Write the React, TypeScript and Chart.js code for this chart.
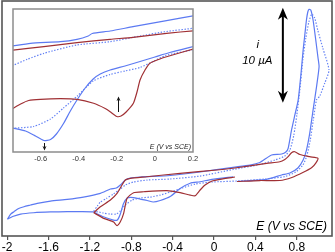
import React, { useEffect, useRef } from "react";
import { Chart, registerables } from "chart.js";
Chart.register(...registerables);

const FONT = '"Liberation Sans", Arial, Helvetica, sans-serif';
const BLUE = "rgb(92,122,242)";
const BLUE_DOT = "rgb(100,130,245)";
const RED = "rgb(160,48,52)";
const FRAME = "#555";

// ---------- main chart (E in V vs SCE, i in µA) ----------
const mainTicks = [-2, -1.6, -1.2, -0.8, -0.4, 0, 0.4, 0.8];
const mainXRange = [-2.05, 1.14];
const mainYRange = [-6.42, 18.32];

const blueSolidV = [
  -1.998, -1.966, -1.934, -1.889, -1.838, -1.774, -1.709, -1.581, -1.42, -1.263, -1.099, -1.002, -0.945, -0.906, -0.858,
  -0.81, -0.713, -0.424, -0.135, 0.183, 0.347, 0.443, 0.508, 0.556, 0.653, 0.694, 0.716, 0.749, 0.781, 0.813, 0.839,
  0.861, 0.877, 0.893, 0.906, 0.919, 0.935, 0.957, 0.983, 1.005, 1.015,
  0.99, 0.957, 0.925, 0.893, 0.861, 0.81, 0.733, 0.653, 0.508, 0.347, 0.222, 0.204, 0.186, -0.022, -0.135, -0.231, -0.328,
  -0.424, -0.52, -0.588, -0.646, -0.713, -0.781, -0.839, -0.877, -0.906, -0.935, -0.973, -1.07, -1.137, -1.166, -1.292,
  -1.42, -1.581, -1.745, -1.87, -1.947, -1.998,
];
const blueSolidI = [
  -4.66, -4.11, -3.86, -3.53, -3.34, -3.16, -2.98, -2.74, -2.56, -2.32, -1.93, -1.47, -1.37, -1.05, -0.53,
  -0.32, -0.21, -0.05, 0.32, 0.81, 1.05, 1.32, 1.79, 2.11, 2.21, 2.42, 2.81, 4.74, 6.32, 7.89, 10.53,
  13.16, 14.74, 16.32, 17.16, 17.44, 17.37, 16.32, 14.21, 12.32, 11.4,
  9.26, 6.84, 4.42, 2.63, 1.58, 0.74, 0.21, 0.0, -0.45, -0.58, -0.68, null, -0.18, -0.45, -0.71, -0.87, -1.42,
  -2.26, -2.68, -2.84, -2.68, -2.53, -2.37, -2.42, -3.05, -4.11, -4.74, -4.74, -4.39, -4.05, -3.89, -3.86,
  -3.86, -3.89, -3.97, -4.11, -4.37, -4.66,
];

const blueDotV = [
  -1.163, -1.128, -1.099, -1.041, -0.973, -0.906, -0.858, -0.781, -0.646, -0.424, -0.135, 0.183, 0.443, 0.588, 0.684,
  0.733, 0.771, 0.8, 0.829, 0.858, 0.887, 0.916, 0.945, 0.973, 1.002, 1.051, 1.111, 1.07, 1.022, 0.99, 0.959, 0.93,
  0.896, 0.858, 0.79, 0.684, 0.492, 0.222, -0.019, -0.183, -0.308, -0.424, -0.52, -0.617, -0.713, -0.79, -0.858, -0.906,
  -0.945, -1.002, -1.07, -1.163,
];
const blueDotI = [
  -3.79, -3.26, -2.84, -2.47, -2.0, -1.47, -1.05, -0.74, -0.53, -0.42, -0.11, 0.58, 1.11, 1.58, 2.0,
  2.63, 4.21, 6.32, 8.95, 12.11, 14.42, 16.11, 16.95, 16.53, 15.26, 13.37, 11.05, 9.68, 8.32, 7.89, 5.79, 3.68,
  2.0, 1.05, 0.32, -0.16, -0.42, -0.63, -0.74, -0.95, -1.37, -1.79, -2.11, -2.32, -2.42, -2.63, -3.16, -3.79,
  -4.11, -4.11, -4.0, -3.79,
];

const redV = [
  -1.163, -1.099, -1.002, -0.938, -0.89, -0.858, -0.81, -0.649, -0.328, 0.026, 0.183, 0.508, 0.636, 0.684, 0.716,
  0.749, 0.781, 0.829, 0.925, 1.005, 0.983, 0.945, 0.858, 0.752, 0.636, 0.443, 0.222, 0.212, 0.202, 0.058, -0.019,
  -0.087, -0.135, -0.183, -0.231, -0.328, -0.456, -0.681, -0.778, -0.841, -0.874, -0.906, -0.938, -0.971, -1.067, -1.163,
];
const redI = [
  -3.97, -3.34, -2.63, -1.93, -1.05, -0.53, -0.35, -0.18, 0.18, 0.53, 0.71, 1.23, 1.4, 1.63, 1.93,
  2.35, 2.45, 2.16, 1.93, 1.76, 1.26, 0.79, 0.26, -0.26, -0.58, -0.58, -0.68, null, -0.21, -0.45, -0.63,
  -1.05, -1.58, -2.18, -2.11, -1.86, -1.65, -1.76, -1.86, -2.45, -4.03, -4.92, -5.32, -4.95, -4.56, -3.97,
];

// scale bar: 10 µA
const scaleBarV = 0.665;
const scaleBarTopI = 17.6;
const scaleBarSpanI = 10;

// ---------- inset (E in V vs SCE, arbitrary current) ----------
const insetTicks = [-0.6, -0.4, -0.2, 0, 0.2];
const insetXRange = [-0.745, 0.2];
const insetYRange = [0, 14.3];

const inBlueUpV = [-0.75, -0.653, -0.496, -0.409, -0.35, -0.329, -0.235, -0.115, 0.061, 0.205];
const inBlueUpI = [10.59, 10.87, 11.03, 11.27, 11.6, 11.85, 12.1, 12.53, 13.13, 13.63];
const inBlueLoV = [-0.75, -0.679, -0.627, -0.583, -0.548, -0.517, -0.479, -0.444, -0.409, -0.366, -0.324, -0.287, -0.235, -0.157, -0.078, 0.0, 0.078, 0.205];
const inBlueLoI = [2.4, 2.1, 1.6, 1.15, 1.25, 1.8, 2.87, 4.1, 5.2, 6.4, 7.3, 7.8, 8.2, 8.6, 9.05, 9.5, 9.95, 10.55];
const inDotUpV = [-0.75, -0.67, -0.583, -0.409, -0.235, -0.078, 0.061, 0.205];
const inDotUpI = [8.62, 9.27, 9.87, 10.7, 11.03, 11.6, 12.05, 12.38];
const inDotLoV = [-0.75, -0.637, -0.548, -0.48, -0.407, -0.324, -0.235, -0.157, -0.078, -0.016, 0.057, 0.205];
const inDotLoI = [2.37, 2.55, 3.3, 4.4, 5.6, 7.1, 7.75, 8.1, 8.45, 9.0, 9.65, 10.25];
const inRedUpV = [-0.75, -0.583, -0.409, -0.235, -0.115, 0.061, 0.205];
const inRedUpI = [10.18, 10.53, 10.93, 11.27, 11.47, 11.87, 12.12];
const inRedLoV = [-0.75, -0.705, -0.663, -0.601, -0.496, -0.409, -0.322, -0.261, -0.235, -0.2, -0.178, -0.151, -0.113, -0.094, -0.078, -0.052, -0.026, 0.026, 0.061, 0.205];
const inRedLoI = [4.3, 4.8, 5.15, 5.27, 5.33, 5.27, 4.87, 4.35, 4.03, 3.55, 3.6, 4.0, 4.87, 6.0, 7.2, 8.2, 8.87, 9.3, 9.53, 10.32];

// inset peak markers
const blueArrowV = -0.58;
const blueArrowI = [0.9, 0.15]; // tail -> head
const redArrowV = -0.193;
const redArrowI = [4.0, 5.55];

function pts(v: number[], y: (number | null)[]) {
  return v.map((x, i) => ({ x, y: y[i] }));
}

function ds(v: number[], y: (number | null)[], color: string, dotted = false) {
  return {
    data: pts(v, y),
    borderColor: color,
    borderWidth: 1.2,
    borderDash: dotted ? [1.4, 1.6] : [],
    showLine: true,
    pointRadius: 0,
    tension: 0.2,
    spanGaps: false,
    fill: false,
  };
}

function arrowHead(ctx: CanvasRenderingContext2D, x: number, tipY: number, dir: number, w: number, l: number) {
  ctx.beginPath();
  ctx.moveTo(x, tipY);
  ctx.lineTo(x - w / 2, tipY - dir * l);
  ctx.lineTo(x, tipY - dir * l * 0.7);
  ctx.lineTo(x + w / 2, tipY - dir * l);
  ctx.closePath();
  ctx.fill();
}

const mainDeco = {
  id: "mainDeco",
  afterDraw(chart: any) {
    const { ctx, chartArea: a, scales } = chart;
    const xs = scales.x, ys = scales.y;
    ctx.save();
    ctx.strokeStyle = FRAME;
    ctx.lineWidth = 1.6;
    ctx.strokeRect(a.left, a.top, a.right - a.left, a.bottom - a.top);

    const ax = xs.getPixelForValue(scaleBarV);
    const yt = ys.getPixelForValue(scaleBarTopI);
    const yb = ys.getPixelForValue(scaleBarTopI - scaleBarSpanI);
    ctx.strokeStyle = "#000";
    ctx.fillStyle = "#000";
    ctx.lineWidth = 2;
    ctx.beginPath();
    ctx.moveTo(ax, yt + 6);
    ctx.lineTo(ax, yb - 6);
    ctx.stroke();
    arrowHead(ctx, ax, yt, -1, 10, 12);
    arrowHead(ctx, ax, yb, 1, 10, 12);

    ctx.font = `italic 11.5px ${FONT}`;
    ctx.textAlign = "center";
    ctx.textBaseline = "alphabetic";
    ctx.fillText("i", ax - 25, yt + 40);
    ctx.fillText("10 µA", ax - 25.5, yt + 56.5);

    ctx.font = `italic 12px ${FONT}`;
    ctx.textAlign = "right";
    ctx.fillText("E (V vs SCE)", a.right - 5, a.bottom - 6.5);
    ctx.restore();
  },
};

const insetDeco = {
  id: "insetDeco",
  beforeDatasetsDraw(chart: any) {
    const { ctx, chartArea: a } = chart;
    ctx.save();
    ctx.fillStyle = "#fff";
    ctx.fillRect(a.left, a.top, a.right - a.left, a.bottom - a.top);
    ctx.restore();
  },
  afterDraw(chart: any) {
    const { ctx, chartArea: a, scales } = chart;
    const xs = scales.x, ys = scales.y;
    ctx.save();
    ctx.strokeStyle = "#8d8d8d";
    ctx.lineWidth = 1.5;
    ctx.strokeRect(a.left, a.top, a.right - a.left, a.bottom - a.top);

    ctx.strokeStyle = "#111";
    ctx.fillStyle = "#111";
    ctx.lineWidth = 1;
    const bx = Math.round(xs.getPixelForValue(blueArrowV)) + 0.5;
    const bt = ys.getPixelForValue(blueArrowI[0]);
    const bh = ys.getPixelForValue(blueArrowI[1]);
    ctx.beginPath();
    ctx.moveTo(bx, bt);
    ctx.lineTo(bx, bh - 3);
    ctx.stroke();
    arrowHead(ctx, bx, bh, 1, 4, 4.5);
    const rx = Math.round(xs.getPixelForValue(redArrowV)) + 0.5;
    const rt = ys.getPixelForValue(redArrowI[0]);
    const rh = ys.getPixelForValue(redArrowI[1]);
    ctx.beginPath();
    ctx.moveTo(rx, rt);
    ctx.lineTo(rx, rh + 3);
    ctx.stroke();
    arrowHead(ctx, rx, rh, -1, 4, 4.5);

    ctx.fillStyle = "#222";
    ctx.font = `italic 7px ${FONT}`;
    ctx.textAlign = "right";
    ctx.textBaseline = "alphabetic";
    ctx.fillText("E (V vs SCE)", a.right - 2, a.bottom - 3.5);
    ctx.restore();
  },
};

const fmt = (v: any) => String(Math.round(Number(v) * 10) / 10);

export default function App() {
  const mainRef = useRef<HTMLCanvasElement>(null);
  const insetRef = useRef<HTMLCanvasElement>(null);

  useEffect(() => {
    const main = new Chart(mainRef.current as HTMLCanvasElement, {
      type: "scatter",
      data: {
        datasets: [
          ds(redV, redI, RED) as any,
          ds(blueDotV, blueDotI, BLUE_DOT, true) as any,
          ds(blueSolidV, blueSolidI, BLUE) as any,
        ],
      },
      options: {
        animation: false,
        responsive: false,
        devicePixelRatio: 1,
        events: [],
        layout: { padding: { left: 2, right: 3, top: 1, bottom: 0 } },
        plugins: { legend: { display: false }, tooltip: { enabled: false } },
        scales: {
          x: {
            type: "linear",
            min: mainXRange[0],
            max: mainXRange[1],
            afterBuildTicks: (s: any) => {
              s.ticks = mainTicks.map((value) => ({ value }));
            },
            afterFit: (s: any) => {
              s.height = 16;
              s.paddingLeft = 0;
              s.paddingRight = 0;
            },
            border: { display: false },
            grid: { drawOnChartArea: false, drawTicks: true, tickLength: 4, color: FRAME, lineWidth: 1.2 },
            ticks: {
              callback: fmt,
              maxRotation: 0,
              autoSkip: false,
              padding: 0,
              color: "#000",
              font: { family: FONT, size: 12 },
            },
          },
          y: { type: "linear", display: false, min: mainYRange[0], max: mainYRange[1] },
        },
      },
      plugins: [mainDeco],
    } as any);

    const inset = new Chart(insetRef.current as HTMLCanvasElement, {
      type: "scatter",
      data: {
        datasets: [
          ds(inRedUpV, inRedUpI, RED) as any,
          ds(inRedLoV, inRedLoI, RED) as any,
          ds(inDotUpV, inDotUpI, BLUE_DOT, true) as any,
          ds(inDotLoV, inDotLoI, BLUE_DOT, true) as any,
          ds(inBlueUpV, inBlueUpI, BLUE) as any,
          ds(inBlueLoV, inBlueLoI, BLUE) as any,
        ],
      },
      options: {
        animation: false,
        responsive: false,
        devicePixelRatio: 1,
        events: [],
        layout: { padding: { left: 5, right: 5, top: 4, bottom: 0 } },
        plugins: { legend: { display: false }, tooltip: { enabled: false } },
        scales: {
          x: {
            type: "linear",
            min: insetXRange[0],
            max: insetXRange[1],
            afterBuildTicks: (s: any) => {
              s.ticks = insetTicks.map((value) => ({ value }));
            },
            afterFit: (s: any) => {
              s.height = 15;
              s.paddingLeft = 0;
              s.paddingRight = 0;
            },
            border: { display: false },
            grid: { display: false, drawTicks: false, tickLength: 0 },
            ticks: {
              callback: fmt,
              maxRotation: 0,
              autoSkip: false,
              padding: 2,
              color: "#333",
              font: { family: FONT, size: 7.5 },
            },
          },
          y: { type: "linear", display: false, min: insetYRange[0], max: insetYRange[1] },
        },
      },
      plugins: [insetDeco],
    } as any);

    return () => {
      main.destroy();
      inset.destroy();
    };
  }, []);

  return (
    <div style={{ position: "fixed", left: 0, top: 0, width: 335, height: 252, background: "#fff", overflow: "hidden" }}>
      <canvas ref={mainRef} width={335} height={252} style={{ position: "absolute", left: 0, top: 0 }} />
      <canvas ref={insetRef} width={190} height={162} style={{ position: "absolute", left: 8, top: 5 }} />
    </div>
  );
}
